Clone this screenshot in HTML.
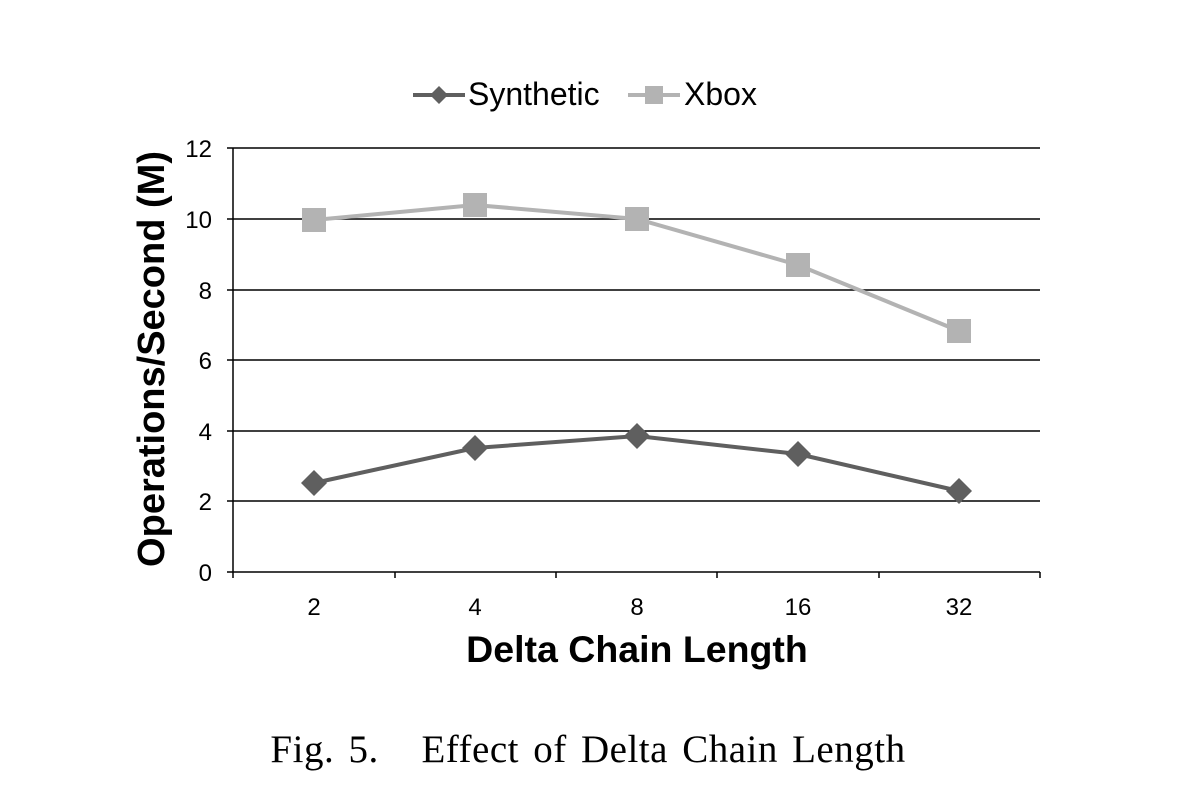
<!DOCTYPE html>
<html><head><style>body{margin:0;background:#fff}</style></head><body>
<svg width="1196" height="786" xmlns="http://www.w3.org/2000/svg" font-family="Liberation Sans, sans-serif">
<rect width="1196" height="786" fill="#fff"/>
<g stroke="#000" stroke-width="1.5">
<line x1="233" y1="148" x2="1040" y2="148"/>
<line x1="233" y1="219" x2="1040" y2="219"/>
<line x1="233" y1="290" x2="1040" y2="290"/>
<line x1="233" y1="360" x2="1040" y2="360"/>
<line x1="233" y1="431" x2="1040" y2="431"/>
<line x1="233" y1="501" x2="1040" y2="501"/>
<line x1="233" y1="572" x2="1040" y2="572"/>
<line x1="233" y1="148" x2="233" y2="578"/>
<line x1="227" y1="148" x2="233" y2="148"/><line x1="227" y1="219" x2="233" y2="219"/><line x1="227" y1="290" x2="233" y2="290"/><line x1="227" y1="360" x2="233" y2="360"/><line x1="227" y1="431" x2="233" y2="431"/><line x1="227" y1="501" x2="233" y2="501"/><line x1="227" y1="572" x2="233" y2="572"/>
<line x1="395" y1="572" x2="395" y2="578"/><line x1="556" y1="572" x2="556" y2="578"/><line x1="717" y1="572" x2="717" y2="578"/><line x1="879" y1="572" x2="879" y2="578"/><line x1="1040" y1="572" x2="1040" y2="578"/>
</g>
<g font-size="24" text-anchor="end">
<text x="212" y="157">12</text><text x="212" y="228">10</text><text x="212" y="299">8</text><text x="212" y="369">6</text><text x="212" y="440">4</text><text x="212" y="510">2</text><text x="212" y="581">0</text>
</g>
<g font-size="24" text-anchor="middle">
<text x="314" y="615">2</text><text x="475" y="615">4</text><text x="637" y="615">8</text><text x="798" y="615">16</text><text x="959" y="615">32</text>
</g>
<polyline points="314,220 475,205 637,219 798,265 959,331" fill="none" stroke="#b3b3b3" stroke-width="4"/>
<g fill="#b3b3b3">
<rect x="302" y="208" width="24" height="24"/><rect x="463" y="193" width="24" height="24"/><rect x="625" y="207" width="24" height="24"/><rect x="786" y="253" width="24" height="24"/><rect x="947" y="319" width="24" height="24"/>
</g>
<polyline points="314,483 475,448 637,436 798,454 959,491" fill="none" stroke="#5f5f5f" stroke-width="4"/>
<g fill="#5f5f5f">
<path d="M314 470 L327 483 L314 496 L301 483Z"/><path d="M475 435 L488 448 L475 461 L462 448Z"/><path d="M637 423 L650 436 L637 449 L624 436Z"/><path d="M798 441 L811 454 L798 467 L785 454Z"/><path d="M959 478 L972 491 L959 504 L946 491Z"/>
</g>
<line x1="413" y1="95" x2="465" y2="95" stroke="#5f5f5f" stroke-width="4"/>
<path d="M439 86 L448 95 L439 104 L430 95Z" fill="#5f5f5f"/>
<text x="468" y="105" font-size="32">Synthetic</text>
<line x1="628" y1="95" x2="680" y2="95" stroke="#b3b3b3" stroke-width="4"/>
<rect x="645" y="86" width="18" height="18" fill="#b3b3b3"/>
<text x="684" y="105" font-size="32">Xbox</text>
<text x="637" y="662" font-size="37.5" font-weight="bold" text-anchor="middle">Delta Chain Length</text>
<text transform="translate(164,359) rotate(-90)" font-size="38" font-weight="bold" text-anchor="middle">Operations/Second (M)</text>
<text x="588" y="762" font-size="39" font-family="Liberation Serif, serif" text-anchor="middle" letter-spacing="0.5" word-spacing="4" xml:space="preserve">Fig. 5.   Effect of Delta Chain Length</text>
</svg>
</body></html>
